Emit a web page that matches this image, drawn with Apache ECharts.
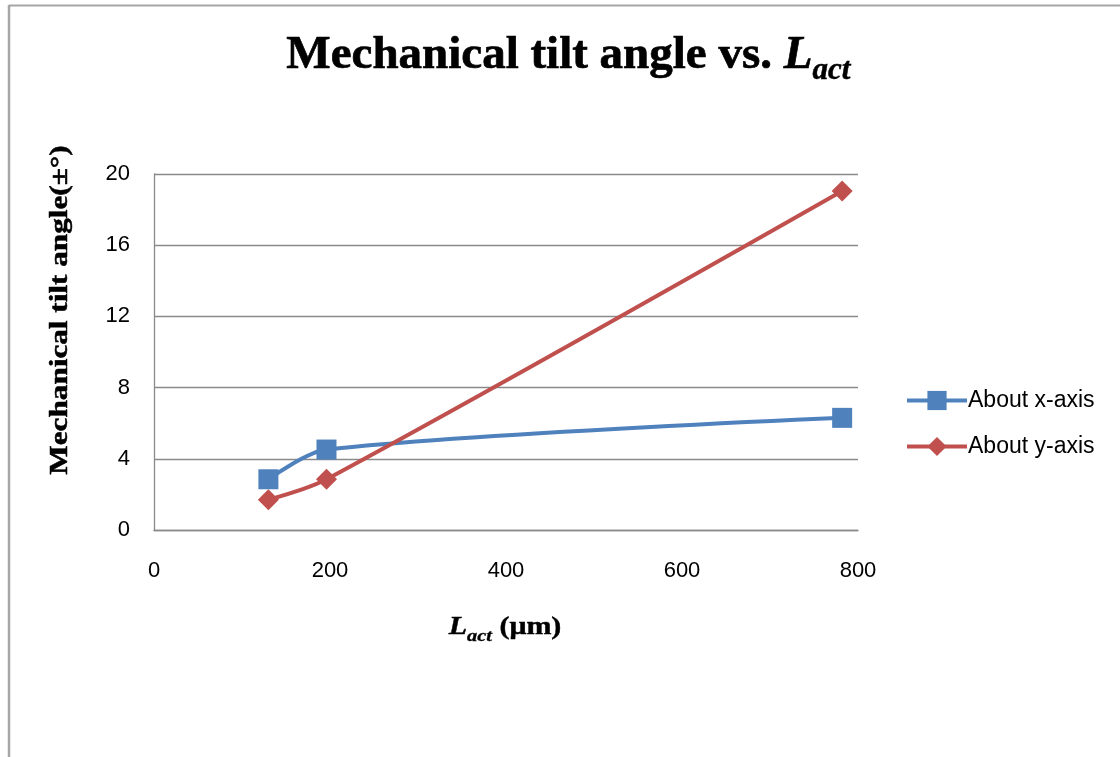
<!DOCTYPE html>
<html>
<head>
<meta charset="utf-8">
<script src="https://cdn.jsdelivr.net/npm/echarts@6/dist/echarts.min.js"></script>
<style>
html,body{margin:0;padding:0;background:#fff;}
#c{width:1120px;height:757px;}
</style>
</head>
<body>
<div id="c"></div>
<script>
const lact = [130, 196, 782];
const aboutX = [2.85, 4.52, 6.3];
const aboutY = [1.7, 2.85, 19.05];
const seriesNames = ['About x-axis', 'About y-axis'];
const xTicks = {min: 0, max: 800, interval: 200};
const yTicks = {min: 0, max: 20, interval: 4};

const chart = echarts.init(document.getElementById('c'), null, {renderer: 'canvas'});
const labelFont = 'Liberation Sans';
const serif = '"Liberation Serif", "Times New Roman", serif';
const gridColor = '#8a8a8a';
const blue = '#4F81BD', red = '#C0504D';

function pairs(xs, ys){ return xs.map((x,i)=>[x, ys[i]]); }
function bold(size, lw, extra){
  return Object.assign({fontFamily: serif, fontWeight: 700, fontSize: size, fill: '#000', stroke: '#000', lineWidth: lw}, extra || {});
}

chart.setOption({
  backgroundColor: '#fff',
  animation: false,
  grid: {left: 154, right: 262, top: 174, bottom: 227},
  xAxis: {
    type: 'value', min: xTicks.min, max: xTicks.max, interval: xTicks.interval,
    axisLine: {show: true, lineStyle: {color: gridColor, width: 1.3}},
    axisTick: {show: false},
    splitLine: {show: false},
    axisLabel: {color: '#000', fontFamily: labelFont, fontSize: 22, margin: 30}
  },
  yAxis: {
    type: 'value', min: yTicks.min, max: yTicks.max, interval: yTicks.interval,
    axisLine: {show: true, lineStyle: {color: gridColor, width: 1.3}},
    axisTick: {show: false},
    splitLine: {show: true, lineStyle: {color: gridColor, width: 1.3}},
    axisLabel: {color: '#000', fontFamily: labelFont, fontSize: 22, margin: 24}
  },
  legend: {
    orient: 'vertical', left: 900, top: 384,
    itemWidth: 60, itemHeight: 24, itemGap: 23,
    textStyle: {fontFamily: labelFont, fontSize: 23, color: '#000', padding: [0,0,0,-4]},
    data: [
      {name: seriesNames[0], lineStyle: {color: blue, width: 4}},
      {name: seriesNames[1], lineStyle: {color: red, width: 4}}
    ]
  },
  series: [
    {
      name: seriesNames[0], type: 'line', smooth: 0.3,
      data: pairs(lact, aboutX),
      symbol: 'rect', symbolSize: 20,
      lineStyle: {color: blue, width: 4},
      itemStyle: {color: blue}
    },
    {
      name: seriesNames[1], type: 'line', smooth: 0.3,
      data: pairs(lact, aboutY),
      symbol: 'diamond', symbolSize: 21,
      lineStyle: {color: red, width: 4},
      itemStyle: {color: red}
    }
  ],
  graphic: [
    {type: 'line', shape: {x1: 9, y1: 5.5, x2: 1120, y2: 5.5}, style: {stroke: '#a6a6a6', lineWidth: 2}},
    {type: 'line', shape: {x1: 9, y1: 5, x2: 9, y2: 757}, style: {stroke: '#a6a6a6', lineWidth: 2.5}},
    {
      type: 'text', left: 286, top: 32,
      style: {
        text: '{a|Mechanical tilt angle vs. }{i|L}{s|act}',
        rich: {
          a: bold(47, 0.7, {lineHeight: 62}),
          i: bold(47, 0.7, {lineHeight: 62, fontStyle: 'italic'}),
          s: bold(31, 0.5, {lineHeight: 30, fontStyle: 'italic', verticalAlign: 'bottom'})
        }
      }
    },
    {
      type: 'text', x: 60, y: 310, rotation: Math.PI/2, scaleX: 1.2,
      style: bold(26, 0.5, {text: 'Mechanical tilt angle(±°)', align: 'center', verticalAlign: 'middle'})
    },
    {
      type: 'text', x: 505, y: 628, scaleX: 1.2,
      style: {
        text: '{i|L}{s|act}{a| (μm)}',
        align: 'center', verticalAlign: 'middle',
        rich: {
          a: bold(25, 0.4, {lineHeight: 34}),
          i: bold(25, 0.4, {lineHeight: 34, fontStyle: 'italic'}),
          s: bold(17, 0.3, {lineHeight: 17, fontStyle: 'italic', verticalAlign: 'bottom'})
        }
      }
    }
  ]
});
</script>
</body>
</html>
